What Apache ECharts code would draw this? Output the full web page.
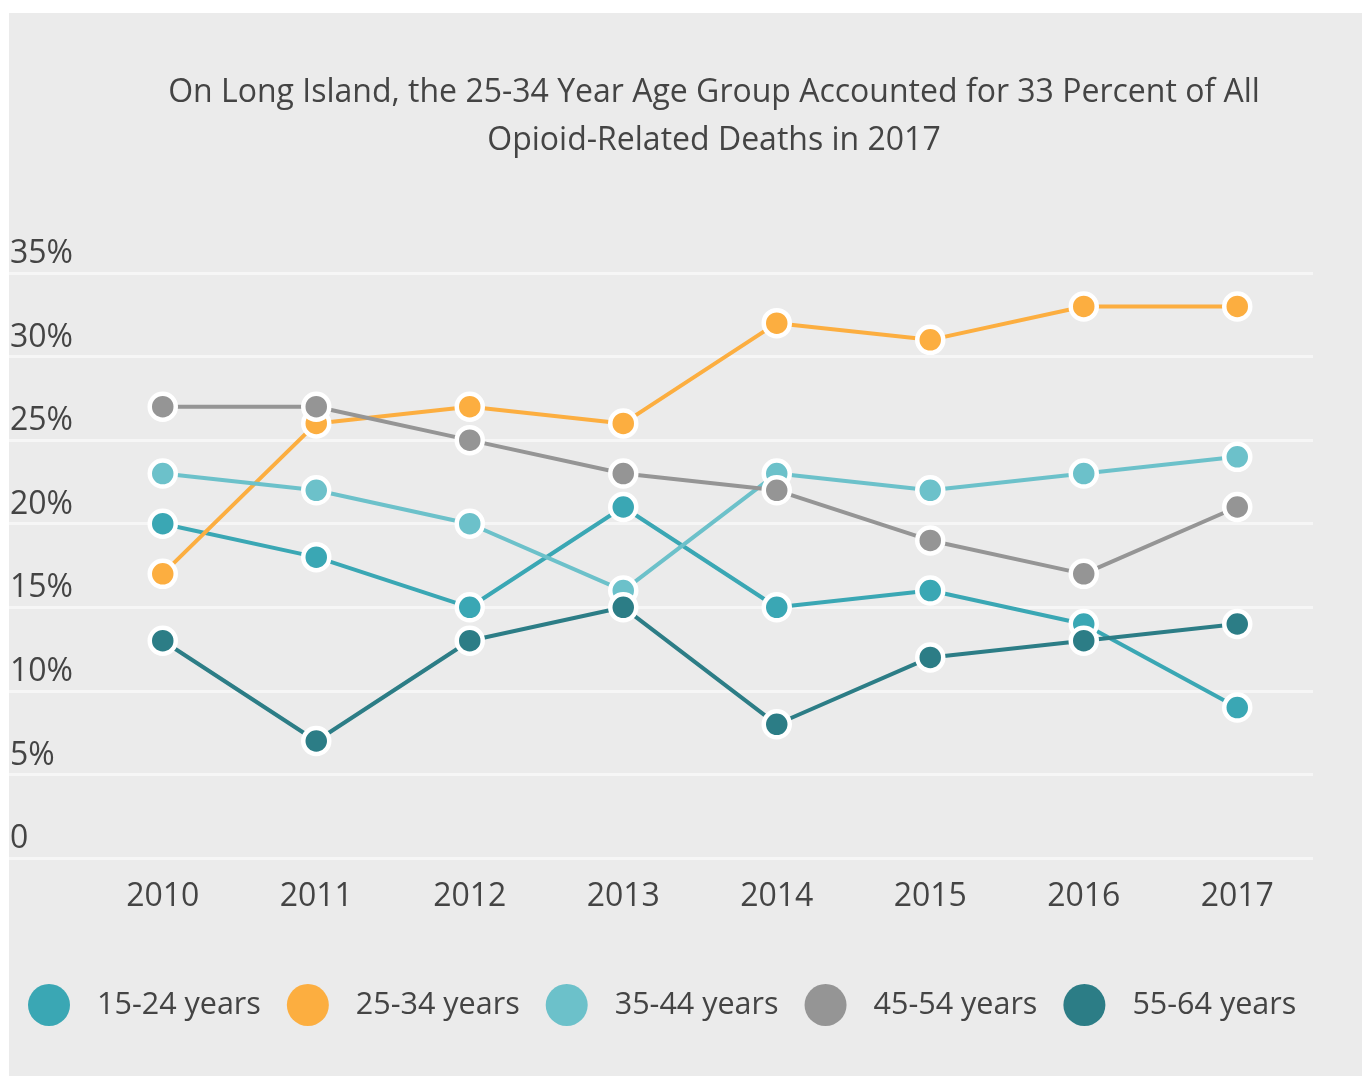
<!DOCTYPE html>
<html>
<head>
<meta charset="utf-8">
<style>
    html, body { margin: 0; padding: 0; background: #ffffff; }
    #chart { width: 1362px; height: 1076px; }
</style>
<script src="https://cdn.jsdelivr.net/npm/echarts@6/dist/echarts.min.js"></script>
</head>
<body>
<div id="chart"></div>
<script>
// data
const years = ['2010', '2011', '2012', '2013', '2014', '2015', '2016', '2017'];
const seriesNames = ['15-24 years', '25-34 years', '35-44 years', '45-54 years', '55-64 years'];
const age15to24 = [20, 18, 15, 21, 15, 16, 14, 9];
const age25to34 = [17, 26, 27, 26, 32, 31, 33, 33];
const age35to44 = [23, 22, 20, 16, 23, 22, 23, 24];
const age45to54 = [27, 27, 25, 23, 22, 19, 17, 21];
const age55to64 = [13, 7, 13, 15, 8, 12, 13, 14];
const seriesColors = ['#3aa7b4', '#fcae40', '#6cc1ca', '#959595', '#2c7d86'];

const font = "'Open Sans', 'DejaVu Sans', sans-serif";
const textColor = '#444444';

const allValues = [age15to24, age25to34, age35to44, age45to54, age55to64];

let chart = echarts.init(document.getElementById('chart'));

let option = {
    backgroundColor: '#ffffff',
    animation: false,
    graphic: [{
        type: 'rect',
        shape: { x: 9, y: 13, width: 1353, height: 1063 },
        style: { fill: '#ebebeb' },
        z: -10
    }],
    title: {
        text: 'On Long Island, the 25-34 Year Age Group Accounted for 33 Percent of All\nOpioid-Related Deaths in 2017',
        left: 709,
        top: 64,
        textAlign: 'center',
        textStyle: {
            fontFamily: font,
            fontSize: 32,
            fontWeight: 'normal',
            color: textColor,
            lineHeight: 48
        }
    },
    legend: {
        data: seriesNames,
        left: 28,
        top: 984,
        padding: 0,
        icon: 'circle',
        itemWidth: 42,
        itemHeight: 42,
        itemGap: 26,
        itemStyle: { borderWidth: 0 },
        textStyle: {
            fontFamily: font,
            fontSize: 30.5,
            color: textColor,
            padding: [0, 0, 0, 22]
        }
    },
    grid: [
        { left: 86, right: 48, top: 273, bottom: 218 },
        { left: 9, right: 49, top: 273, bottom: 218 }
    ],
    xAxis: [
        {
            type: 'category',
            gridIndex: 0,
            data: years,
            boundaryGap: true,
            axisLine: { show: false },
            axisTick: { show: false },
            axisLabel: {
                fontFamily: font,
                fontSize: 32,
                color: textColor,
                margin: 23
            }
        },
        {
            type: 'category',
            gridIndex: 1,
            data: years,
            show: false
        }
    ],
    yAxis: [
        {
            type: 'value',
            gridIndex: 0,
            min: 0,
            max: 35,
            interval: 5,
            axisLine: { show: false },
            axisTick: { show: false },
            axisLabel: { show: false },
            splitLine: { show: false }
        },
        {
            type: 'value',
            gridIndex: 1,
            min: 0,
            max: 35,
            interval: 5,
            axisLine: { show: false },
            axisTick: { show: false },
            axisLabel: {
                inside: true,
                margin: 1,
                verticalAlign: 'bottom',
                padding: [0, 0, 3, 0],
                fontFamily: font,
                fontSize: 32,
                color: textColor,
                formatter: v => v === 0 ? '0' : v + '%'
            },
            splitLine: {
                lineStyle: { color: '#f6f6f6', width: 3 }
            }
        }
    ],
    series: seriesNames.map((name, i) => ({
        name: name,
        type: 'line',
        xAxisIndex: 0,
        yAxisIndex: 0,
        data: allValues[i],
        color: seriesColors[i],
        symbol: 'circle',
        symbolSize: 26,
        lineStyle: { width: 4, color: seriesColors[i] },
        itemStyle: {
            color: seriesColors[i],
            borderColor: '#ffffff',
            borderWidth: 4.5
        }
    }))
};

chart.setOption(option);
</script>
</body>
</html>
